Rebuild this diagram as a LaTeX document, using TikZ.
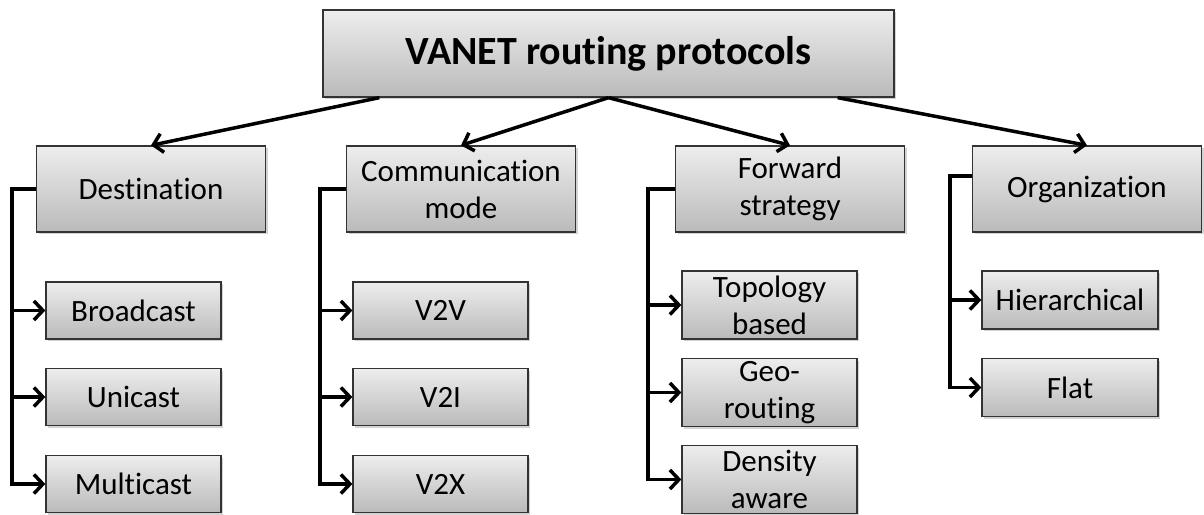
\documentclass[tikz,border=0pt]{standalone}
\usepackage{fontspec}
\setmainfont[RawFeature={-liga;-clig;-calt;-dlig}]{Carlito}
\usetikzlibrary{arrows.meta,shadows}
\newcommand{\brk}{\kern0pt}
\tikzset{
  box/.style={draw=black!80, line width=1.3pt, top color=black!7, bottom color=black!27,
    drop shadow={opacity=0.35, shadow xshift=2pt, shadow yshift=-2pt},
    align=center, inner sep=0pt, text=black,
    font=\fontsize{31}{37}\selectfont},
  lvl1/.style={box, minimum width=229pt, minimum height=86pt},
  leaf/.style={box, minimum width=175pt, minimum height=57pt},
  leaft/.style={box, minimum width=175pt, minimum height=68pt},
  conn/.style={line width=3.5pt, line join=miter,
    -{Straight Barb[length=9pt,width=19pt]}},
}
\begin{document}
\begin{tikzpicture}[x=1pt,y=-1pt]
\useasboundingbox (0,0) rectangle (1204,514);
\node[box, minimum width=571pt, minimum height=87pt, font=\fontsize{40}{48}\selectfont\bfseries] (top) at (608.5,53.5) {VANET rout\brk ing protocols};
\node[lvl1] (dest) at (151,189) {Destinat\brk ion};
\node[lvl1] (comm) at (461,189) {Communicat\brk ion\\mode};
\node[lvl1] (fwd) at (790,189) {Forward\\strategy};
\node[lvl1] (org) at (1087,189) {Organizat\brk ion};

\node[leaf] (bc) at (133.5,310.5) {Broadcast};
\node[leaf] (uc) at (133.5,397) {Unicast};
\node[leaf] (mc) at (133.5,484) {Multicast};

\node[leaf] (v2v) at (440.5,310.5) {V2V};
\node[leaf] (v2i) at (440.5,397) {V2I};
\node[leaf] (v2x) at (440.5,484) {V2X};

\node[leaft] (topo) at (769.5,305) {Topology\\based};
\node[leaft] (geo) at (769.5,392.5) {Geo-\\rout\brk ing};
\node[leaft] (dens) at (769.5,479.5) {Density\\aware};

\node[leaf, minimum width=176pt, minimum height=58pt] (hier) at (1070,300) {Hierarchical};
\node[leaf, minimum width=176pt, minimum height=58pt] (flat) at (1070,387.5) {Flat};

\draw[conn] ([xshift=57pt]top.south west) -- (dest.north);
\draw[conn] (top.south) -- (comm.north);
\draw[conn] (top.south) -- (fwd.north);
\draw[conn] ([xshift=-57pt]top.south east) -- (org.north);

\foreach \c in {bc,uc,mc} \draw[conn] (dest.west) -- ++(-24,0) |- (\c.west);
\foreach \c in {v2v,v2i,v2x} \draw[conn] (comm.west) -- ++(-26,0) |- (\c.west);
\foreach \c in {topo,geo,dens} \draw[conn] (fwd.west) -- ++(-27,0) |- (\c.west);
\foreach \c in {hier,flat} \draw[conn] ([yshift=13pt]org.west) -- ++(-22,0) |- (\c.west);
\end{tikzpicture}
\end{document}
